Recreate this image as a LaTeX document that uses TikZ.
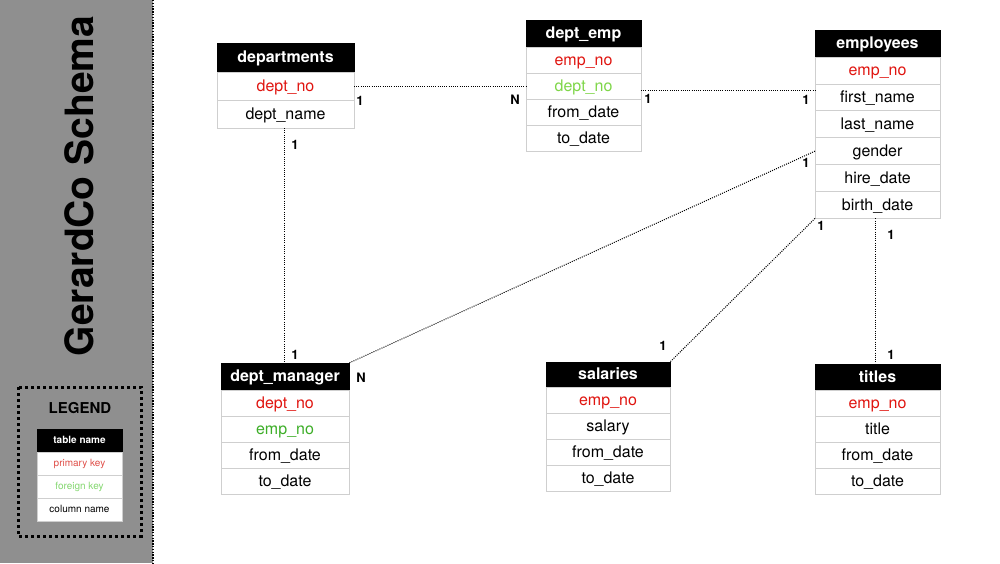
\documentclass[tikz,border=0pt]{standalone}
\usepackage{fontspec}
\setmainfont{TeX Gyre Heros}
\usetikzlibrary{calc}

\definecolor{panelgray}{HTML}{8F8F8F}
\definecolor{pk}{HTML}{E0140F}
\definecolor{fklight}{HTML}{7ED648}
\definecolor{fkdark}{HTML}{3DAE28}
\definecolor{legpk}{HTML}{E0504A}
\definecolor{legfk}{HTML}{86D872}
\definecolor{cellline}{HTML}{CFCFCF}

\tikzset{
  hdr/.style={fill=black, draw=black, text=white, font=\bfseries\fontsize{16}{18}\selectfont,
    text height=13pt, text depth=2.5pt,
    inner sep=0pt, outer sep=0pt, anchor=north west},
  cell/.style={fill=white, draw=cellline, line width=0.8pt, text=black,
    font=\fontsize{16}{18}\selectfont, text height=13pt, text depth=2.5pt,
    inner sep=0pt, outer sep=0pt, anchor=north west},
  rel/.style={line width=1pt, dash pattern=on 1pt off 1.2pt, line cap=butt},
  card/.style={font=\bfseries\fontsize{13}{14}\selectfont, inner sep=0pt}
}

% one row of a table, hung below the node above it
\newcommand\tabrow[4]{\node[cell] (#1) at (#2.south west) {\textcolor{#3}{#4}};}

\begin{document}
\begin{tikzpicture}[x=1pt, y=-1pt]
\useasboundingbox (0,0) rectangle (1000,563);
\fill[white] (0,0) rectangle (1000,563);

% side panel
\fill[panelgray] (0,0) rectangle (153,563);
\draw[line width=1.4pt, dash pattern=on 1.4pt off 1.4pt] (153,0) -- (153,563);
\node[rotate=90, font=\bfseries\fontsize{39}{42}\selectfont] (title) at (79,186) {GerardCo Schema};

% legend
\draw[line width=3pt, dash pattern=on 3pt off 3pt] (18,387) rectangle (141,536);
\node[font=\bfseries\fontsize{15}{17}\selectfont] (legendtitle) at (80,408) {LEGEND};
\begin{scope}[hdr/.append style={minimum width=85pt, minimum height=23pt, font=\bfseries\fontsize{10}{12}\selectfont,
                                 text height=8pt, text depth=2pt},
              cell/.append style={minimum width=85pt, minimum height=23pt, font=\fontsize{10}{12}\selectfont,
                                  text height=8pt, text depth=2pt, draw=cellline}]
  \node[hdr] (leg) at (37,429) {table name};
  \tabrow{leg-1}{leg}{legpk}{primary key}
  \tabrow{leg-2}{leg-1}{legfk}{foreign key}
  \tabrow{leg-3}{leg-2}{black}{column name}
\end{scope}

% departments
\begin{scope}[hdr/.append style={minimum width=137pt, minimum height=29pt},
              cell/.append style={minimum width=137pt, minimum height=28pt}]
  \node[hdr] (departments) at (217,43) {departments};
  \tabrow{departments-1}{departments}{pk}{dept\_no}
  \tabrow{departments-2}{departments-1}{black}{dept\_name}
\end{scope}

% dept_emp
\begin{scope}[hdr/.append style={minimum width=115pt, minimum height=27pt},
              cell/.append style={minimum width=115pt, minimum height=26pt}]
  \node[hdr] (dept_emp) at (526,20) {dept\_emp};
  \tabrow{dept_emp-1}{dept_emp}{pk}{emp\_no}
  \tabrow{dept_emp-2}{dept_emp-1}{fklight}{dept\_no}
  \tabrow{dept_emp-3}{dept_emp-2}{black}{from\_date}
  \tabrow{dept_emp-4}{dept_emp-3}{black}{to\_date}
\end{scope}

% employees
\begin{scope}[hdr/.append style={minimum width=125pt, minimum height=27pt},
              cell/.append style={minimum width=125pt, minimum height=26.9pt}]
  \node[hdr] (employees) at (815,30) {employees};
  \tabrow{employees-1}{employees}{pk}{emp\_no}
  \tabrow{employees-2}{employees-1}{black}{first\_name}
  \tabrow{employees-3}{employees-2}{black}{last\_name}
  \tabrow{employees-4}{employees-3}{black}{gender}
  \tabrow{employees-5}{employees-4}{black}{hire\_date}
  \tabrow{employees-6}{employees-5}{black}{birth\_date}
\end{scope}

% dept_manager
\begin{scope}[hdr/.append style={minimum width=128pt, minimum height=27pt},
              cell/.append style={minimum width=128pt, minimum height=26pt}]
  \node[hdr] (dept_manager) at (221,363) {dept\_manager};
  \tabrow{dept_manager-1}{dept_manager}{pk}{dept\_no}
  \tabrow{dept_manager-2}{dept_manager-1}{fkdark}{emp\_no}
  \tabrow{dept_manager-3}{dept_manager-2}{black}{from\_date}
  \tabrow{dept_manager-4}{dept_manager-3}{black}{to\_date}
\end{scope}

% salaries
\begin{scope}[hdr/.append style={minimum width=124pt, minimum height=25pt},
              cell/.append style={minimum width=124pt, minimum height=26pt}]
  \node[hdr] (salaries) at (546,362) {salaries};
  \tabrow{salaries-1}{salaries}{pk}{emp\_no}
  \tabrow{salaries-2}{salaries-1}{black}{salary}
  \tabrow{salaries-3}{salaries-2}{black}{from\_date}
  \tabrow{salaries-4}{salaries-3}{black}{to\_date}
\end{scope}

% titles
\begin{scope}[hdr/.append style={minimum width=125pt, minimum height=26pt},
              cell/.append style={minimum width=125pt, minimum height=26pt}]
  \node[hdr] (titles) at (815,364) {titles};
  \tabrow{titles-1}{titles}{pk}{emp\_no}
  \tabrow{titles-2}{titles-1}{black}{title}
  \tabrow{titles-3}{titles-2}{black}{from\_date}
  \tabrow{titles-4}{titles-3}{black}{to\_date}
\end{scope}

% relationships
\draw[rel] (departments-1.east) -- (departments-1.east -| dept_emp-2.west);
\draw[rel] ([yshift=-4pt]dept_emp-2.east) -- ([yshift=-4pt]dept_emp-2.east -| employees-2.west);
\draw[rel] ([xshift=-1.5pt]departments-2.south) -- ([xshift=-1.5pt]departments-2.south |- dept_manager.north);
\draw[rel] (employees-4.west) -- (dept_manager.north east);
\draw[rel] (employees-6.south west) -- (salaries.north east);
\draw[rel] ([xshift=-2.5pt]employees-6.south) -- ([xshift=-2.5pt]employees-6.south |- titles.north);

% cardinalities
\node[card] (c1) at (360,101) {1};
\node[card] (c2) at (515,100) {N};
\node[card] (c3) at (648,99) {1};
\node[card] (c4) at (806,100) {1};
\node[card] (c5) at (295,145) {1};
\node[card] (c6) at (295,355) {1};
\node[card] (c7) at (806,163) {1};
\node[card] (c8) at (361,378) {N};
\node[card] (c9) at (821,226) {1};
\node[card] (c10) at (663,346) {1};
\node[card] (c11) at (891,235) {1};
\node[card] (c12) at (891,355) {1};
\end{tikzpicture}
\end{document}
